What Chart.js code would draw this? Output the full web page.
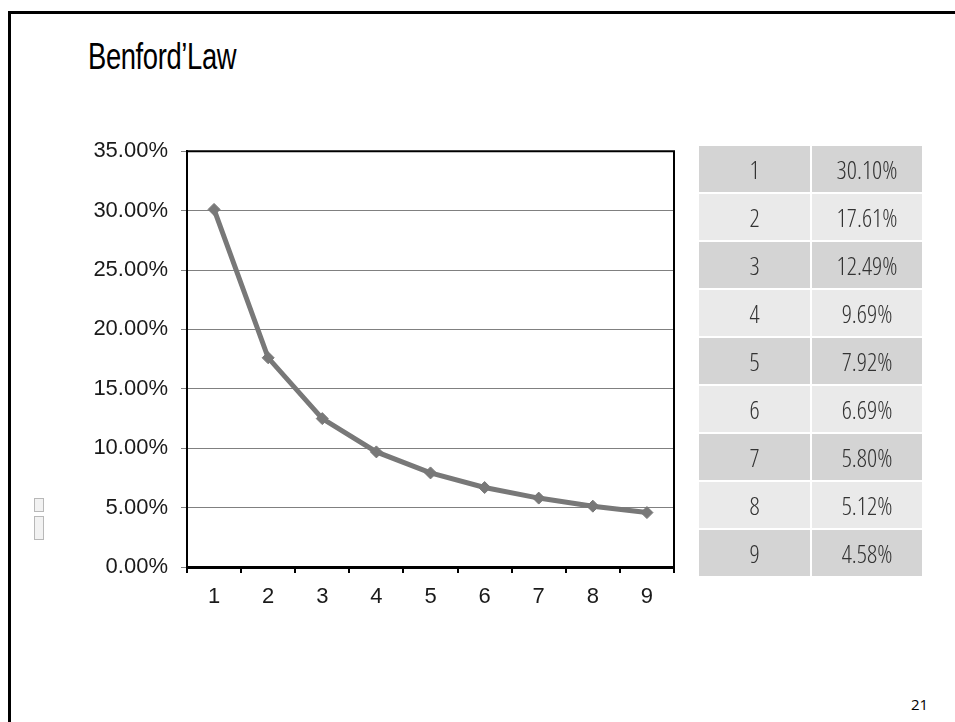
<!DOCTYPE html>
<html>
<head>
<meta charset="utf-8">
<script src="https://cdn.jsdelivr.net/npm/chart.js@4.4.1/dist/chart.umd.min.js"></script>
<style>
  html, body { margin: 0; padding: 0; background: #fff; }
  body { width: 955px; height: 722px; position: relative; overflow: hidden; }
  .frame-top { position: absolute; left: 8px; top: 11px; width: 947px; height: 3px; background: #000; }
  .frame-left { position: absolute; left: 8px; top: 11px; width: 3px; height: 711px; background: #000; }
  #title { position: absolute; left: 88px; top: 36px; font-family: "Liberation Sans Narrow", "Liberation Sans", sans-serif;
    font-size: 37px; color: #000; transform-origin: left top; transform: scaleX(0.74); white-space: nowrap; letter-spacing: -0.5px; }
  #chartBox { position: absolute; left: 60px; top: 125px; width: 640px; height: 493px; }
  #tbl { position: absolute; left: 699px; top: 146px; width: 223px; }
  .row { display: flex; height: 46px; margin-bottom: 2px; }
  .row div { display: flex; align-items: center; justify-content: center; font-family: "Open Sans", sans-serif;
    font-stretch: 75%; font-weight: 300; font-size: 25px; color: #333; }
  .row .c1 { width: 111px; margin-right: 2px; }
  .row .c2 { width: 110px; }
  .dark div { background: #d4d4d4; }
  .light div { background: #eaeaea; }
  #pageNo { position: absolute; left: 911px; top: 694px; font-family: "Open Sans", sans-serif; font-size: 15px; color: #000; }
  .mark { position: absolute; left: 34px; width: 8px; background: #f2f2f2; border: 1px solid #b8b8b8; }
</style>
</head>
<body>
<div class="frame-top"></div>
<div class="frame-left"></div>
<div id="title">Benford’Law</div>
<div id="chartBox"><canvas id="benfordChart" width="640" height="493"></canvas></div>
<div id="tbl"></div>
<div class="mark" style="top:498px;height:12px;"></div>
<div class="mark" style="top:516px;height:22px;"></div>
<div id="pageNo">21</div>
<script>
const digits = ["1", "2", "3", "4", "5", "6", "7", "8", "9"];
const benfordPct = [30.10, 17.61, 12.49, 9.69, 7.92, 6.69, 5.80, 5.12, 4.58];
const yTicks = [0, 5, 10, 15, 20, 25, 30, 35];

// table on the right
const tbl = document.getElementById("tbl");
digits.forEach(function (d, i) {
  const row = document.createElement("div");
  row.className = "row " + (i % 2 === 0 ? "dark" : "light");
  row.innerHTML = '<div class="c1">' + d + '</div><div class="c2">' + benfordPct[i].toFixed(2) + '%</div>';
  tbl.appendChild(row);
});

// black frame on top/right of the plot
const plotFrame = {
  id: "plotFrame",
  afterDraw(chart) {
    const a = chart.chartArea;
    const ctx = chart.ctx;
    ctx.save();
    ctx.strokeStyle = "#000";
    ctx.lineWidth = 2;
    ctx.beginPath();
    ctx.moveTo(a.left, a.top);
    ctx.lineTo(a.right, a.top);
    ctx.lineTo(a.right, a.bottom);
    ctx.stroke();
    ctx.restore();
  }
};

new Chart(document.getElementById("benfordChart"), {
  type: "line",
  data: {
    labels: digits,
    datasets: [{
      data: benfordPct,
      borderColor: "#787878",
      backgroundColor: "#787878",
      borderWidth: 5,
      pointStyle: "rectRot",
      pointRadius: 6,
      pointBorderWidth: 1,
      tension: 0
    }]
  },
  options: {
    responsive: false,
    devicePixelRatio: 1,
    animation: false,
    layout: { padding: { top: 20, right: 26, left: 0, bottom: 0 } },
    plugins: { legend: { display: false }, tooltip: { enabled: false } },
    scales: {
      x: {
        offset: true,
        grid: { offset: true, drawOnChartArea: false, drawTicks: true, tickLength: 6, color: "#000", lineWidth: 2 },
        border: { color: "#000", width: 3 },
        ticks: { color: "#1a1a1a", font: { family: "Liberation Sans, Arial", size: 22 }, padding: 11, maxRotation: 0 },
        afterFit(scale) { scale.height = 51; }
      },
      y: {
        min: 0,
        max: 35,
        afterBuildTicks(scale) { scale.ticks = yTicks.map(v => ({ value: v })); },
        grid: { color: "#808080", lineWidth: 1, tickLength: 6, tickColor: "#808080" },
        border: { color: "#000", width: 2 },
        ticks: {
          color: "#1a1a1a",
          font: { family: "Liberation Sans, Arial", size: 22 },
          padding: 13,
          callback: v => v.toFixed(2) + "%"
        },
        afterFit(scale) { scale.width = 127; }
      }
    }
  },
  plugins: [plotFrame]
});
</script>
</body>
</html>
